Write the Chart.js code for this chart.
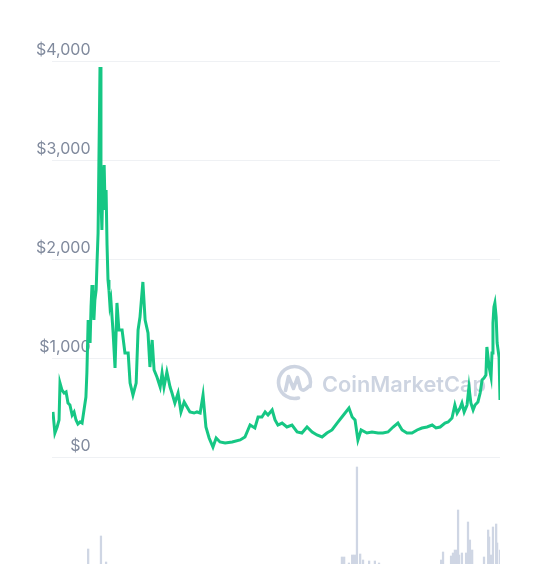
<!DOCTYPE html>
<html>
<head>
<meta charset="utf-8">
<script src="https://cdn.jsdelivr.net/npm/chart.js@4"></script>
<style>
  html, body { margin: 0; padding: 0; background: #ffffff; overflow: hidden; }
  canvas { display: block; }
</style>
</head>
<body>
<canvas id="c" width="536" height="564"></canvas>
<script>
// Days since 2017-08-01
const days = [3,9,16,22,25,31,38,44,50,56,63,69,75,81,88,94,100,106,109,113,116,119,122,125,128,131,134,138,141,144,147,150,153,156,159,163,166,169,172,175,178,181,184,191,197,203,209,219,228,238,244,253,263,269,275,284,291,300,306,313,319,328,338,344,350,359,369,375,384,394,403,413,422,431,444,453,463,472,481,491,503,513,525,541,563,588,603,619,634,644,656,666,675,688,697,706,719,734,750,766,781,797,813,828,844,859,875,891,906,928,938,947,956,966,984,1000,1019,1034,1050,1066,1081,1094,1109,1125,1141,1156,1172,1188,1200,1213,1228,1238,1250,1259,1266,1275,1281,1288,1297,1303,1309,1316,1322,1331,1338,1344,1350,1356,1359,1366,1372,1375,1378,1381,1384,1388,1391,1397,1400];
// Price in USD
const prices = [455,242,303,374,747,677,646,657,545,525,424,455,374,333,354,343,475,606,848,1384,1283,1152,1515,1737,1586,1384,1586,1687,1990,2263,3101,3939,2596,2293,2798,2949,2495,2697,2141,1788,1687,1535,1586,1253,899,1556,1283,1283,1051,1051,747,626,747,1283,1414,1768,1384,1253,909,1182,879,808,707,848,707,859,707,646,545,646,455,556,505,455,444,455,444,626,303,192,101,192,152,141,152,172,202,323,293,404,404,455,424,475,374,323,343,303,323,253,242,303,253,222,202,242,273,343,404,495,404,374,172,273,242,253,242,242,253,303,343,273,242,242,273,293,303,323,293,303,343,354,394,525,444,495,545,455,525,707,545,475,525,556,646,778,798,828,1111,909,808,1051,1354,1515,1556,1414,1152,1010,576];
// Volume (billions USD, relative)
const volDays = [113,153,169,906,913,928,938,944,950,953,963,972,991,1009,1022,1216,1222,1247,1253,1259,1266,1269,1272,1281,1294,1300,1306,1313,1350,1363,1366,1372,1378,1388,1391,1400];
const volumes = [1.5,2.8,0.2,0.7,0.7,0.1,0.9,0.9,0.9,9.7,1.0,0.4,0.3,0.3,0.1,0.4,1.2,0.8,1.1,1.4,1.4,5.4,0.9,1.1,1.1,4.2,2.4,1.4,0.7,3.4,2.7,0.9,3.7,4.0,2.1,1.4];
const priceTicks = [0,1000,2000,3000,4000];

const priceData = days.map((d, i) => ({x: d, y: prices[i]}));
const volData = volDays.map((d, i) => ({x: d, y: volumes[i]}));

const watermark = {
  id: 'watermark',
  beforeDatasetsDraw(chart) {
    const ctx = chart.ctx;
    ctx.save();
    const col = '#cdd4e1';
    const cx = 294.5, cy = 382.5, r = 16;
    ctx.strokeStyle = col;
    ctx.lineWidth = 3.6;
    ctx.lineCap = 'round';
    ctx.lineJoin = 'round';
    ctx.beginPath();
    ctx.arc(cx, cy, r, 0.42 * Math.PI, 2.08 * Math.PI, false);
    ctx.stroke();
    ctx.beginPath();
    ctx.moveTo(cx - 9, cy + 8);
    ctx.lineTo(cx - 6, cy - 6);
    ctx.lineTo(cx - 1, cy + 6);
    ctx.lineTo(cx + 3, cy - 5);
    ctx.lineTo(cx + 6, cy + 6);
    ctx.quadraticCurveTo(cx + 9, cy + 10, cx + 14, cy + 4);
    ctx.stroke();
    const txt = 'CoinMarketCap';
    ctx.fillStyle = col;
    ctx.font = '600 24px Inter';
    const w = ctx.measureText(txt).width;
    const size = 24 * 164 / w;
    ctx.font = '600 ' + size.toFixed(2) + 'px Inter';
    ctx.textBaseline = 'alphabetic';
    ctx.textAlign = 'left';
    ctx.fillText(txt, 322, 392);
    ctx.restore();
  }
};

new Chart(document.getElementById('c'), {
  data: {
    datasets: [
      {
        type: 'line',
        data: priceData,
        yAxisID: 'y',
        borderColor: '#16c784',
        borderWidth: 3,
        pointRadius: 0,
        tension: 0,
        fill: false,
        order: 0
      },
      {
        type: 'bar',
        data: volData,
        yAxisID: 'yv',
        backgroundColor: '#cfd6e4',
        barThickness: 1.6,
        order: 1
      }
    ]
  },
  options: {
    responsive: false,
    animation: false,
    devicePixelRatio: 1,
    layout: { padding: { left: 52, right: 36, top: 61, bottom: 0 } },
    plugins: { legend: { display: false }, tooltip: { enabled: false } },
    scales: {
      x: { type: 'linear', min: 0, max: 1400, offset: false, display: false },
      y: {
        position: 'left',
        min: -1080.8,
        max: 4000,
        border: { display: false },
        grid: { color: '#eff1f4', lineWidth: 1, drawTicks: false },
        afterBuildTicks(scale) {
          scale.ticks = priceTicks.map(v => ({ value: v }));
        },
        afterFit(scale) { scale.width = 0; },
        ticks: {
          mirror: true,
          crossAlign: 'far',
          padding: -16,
          labelOffset: -11,
          color: '#808a9d',
          font: { family: 'Inter', size: 16 },
          callback: v => '$' + Number(v).toLocaleString('en-US')
        }
      },
      yv: { display: false, min: 0, max: 50.3 }
    }
  },
  plugins: [watermark]
});
</script>
</body>
</html>
